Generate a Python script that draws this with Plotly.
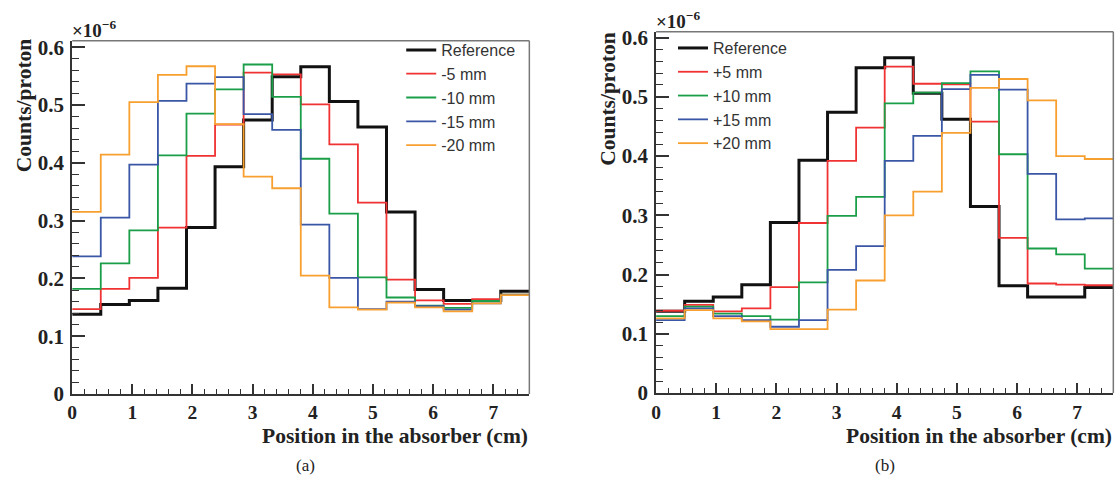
import numpy as np
import plotly.graph_objects as go

W, H = 1120, 496

# ---------------- data (counts/proton, x1e-6) ----------------
n_bins = 16
x_max = 7.6
bin_edges = list(np.linspace(0.0, x_max, n_bins + 1))

labels_a = ["Reference", "-5 mm", "-10 mm", "-15 mm", "-20 mm"]
labels_b = ["Reference", "+5 mm", "+10 mm", "+15 mm", "+20 mm"]

reference = [0.138, 0.155, 0.162, 0.183, 0.288, 0.393, 0.474, 0.549,
             0.566, 0.506, 0.462, 0.315, 0.181, 0.162, 0.162, 0.178]

minus5 = [0.147, 0.182, 0.201, 0.288, 0.412, 0.466, 0.556, 0.553,
          0.501, 0.432, 0.331, 0.198, 0.162, 0.156, 0.164, 0.172]
minus10 = [0.182, 0.226, 0.283, 0.413, 0.485, 0.527, 0.570, 0.514,
           0.407, 0.312, 0.202, 0.167, 0.153, 0.149, 0.161, 0.172]
minus15 = [0.238, 0.305, 0.397, 0.507, 0.537, 0.548, 0.484, 0.457,
           0.293, 0.201, 0.147, 0.160, 0.152, 0.146, 0.157, 0.171]
minus20 = [0.315, 0.414, 0.505, 0.552, 0.567, 0.467, 0.376, 0.356,
           0.205, 0.150, 0.146, 0.158, 0.150, 0.143, 0.157, 0.171]

plus5 = [0.139, 0.149, 0.138, 0.143, 0.179, 0.287, 0.392, 0.448,
         0.551, 0.522, 0.521, 0.458, 0.262, 0.185, 0.183, 0.182]
plus10 = [0.130, 0.146, 0.134, 0.130, 0.124, 0.187, 0.299, 0.331,
          0.489, 0.507, 0.523, 0.543, 0.403, 0.244, 0.234, 0.210]
plus15 = [0.123, 0.143, 0.130, 0.123, 0.112, 0.123, 0.208, 0.248,
          0.392, 0.434, 0.513, 0.537, 0.512, 0.370, 0.293, 0.295]
plus20 = [0.126, 0.140, 0.126, 0.121, 0.108, 0.108, 0.141, 0.190,
          0.300, 0.340, 0.439, 0.515, 0.530, 0.494, 0.400, 0.395]

y_tickvals = [0, 0.1, 0.2, 0.3, 0.4, 0.5, 0.6]
y_ticktext = ["0", "0.1", "0.2", "0.3", "0.4", "0.5", "0.6"]

series_a = [reference, minus5, minus10, minus15, minus20]
series_b = [reference, plus5, plus10, plus15, plus20]

colors = ["#111111", "#f03232", "#1b9e48", "#3a56a6", "#f7a030"]
widths = [3.0, 1.8, 1.8, 1.8, 1.8]

# ---------------- helpers ----------------
def px_x(p):
    return p / W

def px_y(p):
    return 1 - p / H

A = dict(x0=67.5, x1=526.7, y0=36.0, y1=402.7)
B = dict(x0=654.0, x1=1113.3, y0=26.7, y1=401.7)

fig = go.Figure()

def add_hist(vals, name, color, width, xa, ya, legend):
    fig.add_trace(go.Scatter(
        x=bin_edges,
        y=list(vals) + [vals[-1]],
        mode="lines",
        line=dict(shape="hv", color=color, width=width),
        name=name,
        xaxis=xa, yaxis=ya, legend=legend,
        hoverinfo="skip",
    ))

for vals, name, c, w in zip(series_a, labels_a, colors, widths):
    add_hist(vals, name, c, w, "x", "y", "legend")
for vals, name, c, w in zip(series_b, labels_b, colors, widths):
    add_hist(vals, name, c, w, "x2", "y2", "legend2")

xtickfont = dict(family="Liberation Serif", size=19.5, color="#222222")
ytickfont = dict(family="Liberation Serif", size=21, color="#222222")

def xaxis_cfg(box):
    return dict(
        domain=[px_x(box["x0"]), px_x(box["x1"])],
        range=[0, x_max], dtick=1, tick0=0,
        ticks="inside", ticklen=10, tickwidth=1.5, tickcolor="#333333",
        minor=dict(dtick=0.2, ticks="inside", ticklen=5, tickwidth=1.2, tickcolor="#333333"),
        showline=True, linecolor="#333333", linewidth=2,
        showgrid=False, zeroline=False,
        tickfont=xtickfont, tickprefix="<b>", ticksuffix="</b>",
    )

def yaxis_cfg(box, ymax):
    return dict(
        domain=[px_y(box["y1"]), px_y(box["y0"])],
        range=[0, ymax],
        tickvals=y_tickvals, ticktext=["<b>%s</b>" % t for t in y_ticktext],
        ticks="inside", ticklen=13, tickwidth=1.5, tickcolor="#333333",
        minor=dict(dtick=0.02, tick0=0, ticks="inside", ticklen=7, tickwidth=1.2, tickcolor="#333333"),
        showline=True, linecolor="#333333", linewidth=2,
        showgrid=False, zeroline=False,
        tickfont=ytickfont,
        ticklabelstandoff=2,
    )

fig.update_layout(
    width=W, height=H,
    autosize=False,
    margin=dict(l=0, r=0, t=0, b=0, pad=0),
    paper_bgcolor="white", plot_bgcolor="white",
    xaxis=dict(xaxis_cfg(A), anchor="y"),
    yaxis=dict(yaxis_cfg(A, (A["y1"] - A["y0"]) / 600.0), anchor="x"),
    xaxis2=dict(xaxis_cfg(B), anchor="y2"),
    yaxis2=dict(yaxis_cfg(B, (B["y1"] - B["y0"]) / 615.0), anchor="x2"),
    legend=dict(
        x=px_x(398), y=px_y(28), xanchor="left", yanchor="top",
        bgcolor="rgba(0,0,0,0)", borderwidth=0,
        font=dict(family="Liberation Sans", size=16, color="#333333"),
        tracegroupgap=0,
    ),
    legend2=dict(
        x=px_x(671), y=px_y(26), xanchor="left", yanchor="top",
        bgcolor="rgba(0,0,0,0)", borderwidth=0,
        font=dict(family="Liberation Sans", size=16, color="#333333"),
        tracegroupgap=0,
    ),
    showlegend=True,
)

shapes = []
for xr, yr in (("x domain", "y domain"), ("x2 domain", "y2 domain")):
    shapes.append(dict(type="line", xref=xr, yref=yr, x0=0, x1=1, y0=1, y1=1,
                       line=dict(color="#777777", width=1.5)))
    shapes.append(dict(type="line", xref=xr, yref=yr, x0=1, x1=1, y0=0, y1=1,
                       line=dict(color="#777777", width=1.5)))
fig.update_layout(shapes=shapes)

titlefont = dict(family="Liberation Serif", size=21.5, color="#222222")
ann = []
ann.append(dict(text="<b>Counts/proton</b>", x=px_x(19), y=px_y(103), xref="paper", yref="paper",
                textangle=-90, showarrow=False, font=titlefont, xanchor="center", yanchor="middle"))
ann.append(dict(text="<b>Counts/proton</b>", x=px_x(606), y=px_y(97), xref="paper", yref="paper",
                textangle=-90, showarrow=False, font=titlefont, xanchor="center", yanchor="middle"))
ann.append(dict(text="<b>Position in the absorber (cm)</b>", x=px_x(527), y=px_y(446),
                xref="paper", yref="paper", showarrow=False, font=titlefont,
                xanchor="right", yanchor="middle"))
ann.append(dict(text="<b>Position in the absorber (cm)</b>", x=px_x(1114), y=px_y(446),
                xref="paper", yref="paper", showarrow=False, font=titlefont,
                xanchor="right", yanchor="middle"))
expfont = dict(family="Liberation Serif", size=19, color="#222222")
ann.append(dict(text="<b>×10<sup>−6</sup></b>", x=px_x(65), y=px_y(38), xref="paper", yref="paper",
                showarrow=False, font=expfont, xanchor="left", yanchor="bottom"))
ann.append(dict(text="<b>×10<sup>−6</sup></b>", x=px_x(652), y=px_y(29), xref="paper", yref="paper",
                showarrow=False, font=expfont, xanchor="left", yanchor="bottom"))
capfont = dict(family="Liberation Serif", size=17, color="#222222")
ann.append(dict(text="(a)", x=px_x(302), y=px_y(477), xref="paper", yref="paper",
                showarrow=False, font=capfont, xanchor="center", yanchor="middle"))
ann.append(dict(text="(b)", x=px_x(884), y=px_y(477), xref="paper", yref="paper",
                showarrow=False, font=capfont, xanchor="center", yanchor="middle"))
fig.update_layout(annotations=ann)

fig.write_html("out.html", config={"displayModeBar": False},
               post_script="document.body.style.margin='0';document.body.style.overflow='hidden';")
